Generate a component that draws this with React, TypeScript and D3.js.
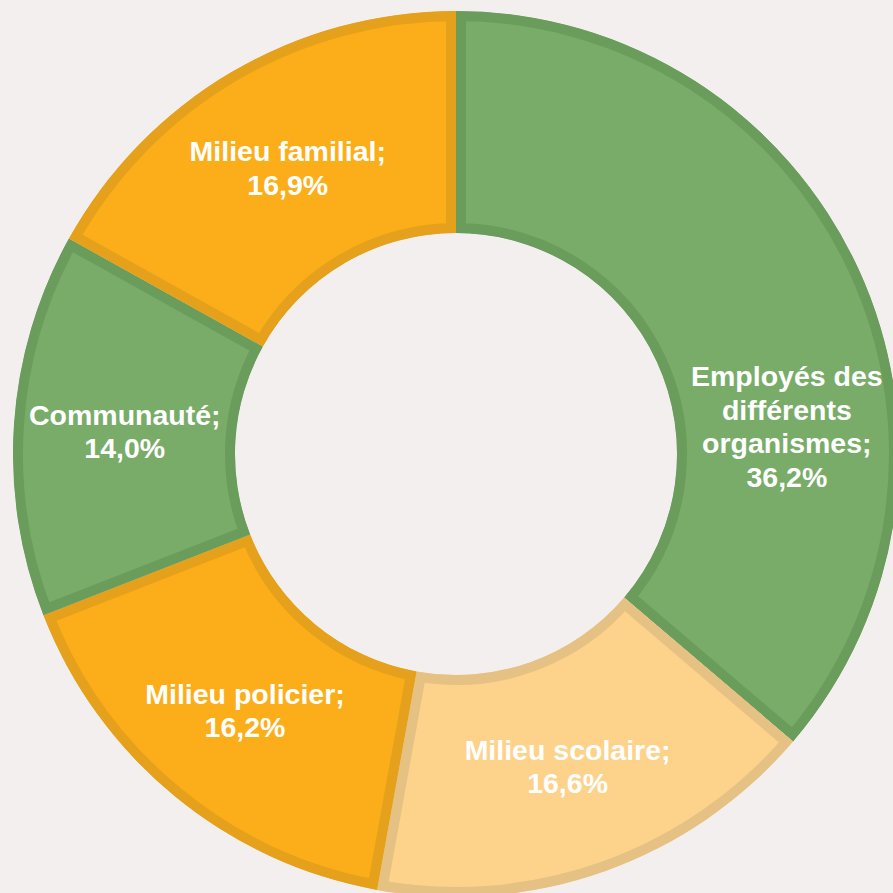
import React from "react";
import * as d3 from "d3";

const categories = ["Employés des différents organismes", "Milieu scolaire", "Milieu policier", "Communauté", "Milieu familial"];
const values = [36.2, 16.6, 16.2, 14.0, 16.9];
const labelLines = [
  ["Employés des", "différents", "organismes;", "36,2%"],
  ["Milieu scolaire;", "16,6%"],
  ["Milieu policier;", "16,2%"],
  ["Communauté;", "14,0%"],
  ["Milieu familial;", "16,9%"],
];
const fills = ["#78AC68", "#FDD28B", "#FBAE19", "#78AC68", "#FBAE19"];
const strokes = ["#6A9D5B", "#E5C184", "#E5A11B", "#6A9D5B", "#E5A11B"];
// extra angular shift (degrees) for labels that Excel moved to fit
const labelShift = [20, 0, 0, 0, 0];

const W = 893;
const H = 893;
const cx = 456;
const cy = 454;
const R = 443;
const r = 221;

export default function App() {
  const pie = d3.pie<number>().sort(null).value((d) => d)(values);
  const arc = d3.arc<d3.PieArcDatum<number>>().innerRadius(r).outerRadius(R);
  const mid = (r + R) / 2;
  return (
    <svg
      width={W}
      height={H}
      style={{ position: "absolute", left: 0, top: 0, background: "#F3EFEE" }}
    >
      <defs>
        {pie.map((p, i) => (
          <clipPath id={`clip${i}`} key={i}>
            <path d={arc(p) || ""} />
          </clipPath>
        ))}
      </defs>
      <g transform={`translate(${cx},${cy})`}>
        {pie.map((p, i) => (
          <path
            key={categories[i]}
            d={arc(p) || ""}
            fill={fills[i]}
            stroke={strokes[i]}
            strokeWidth={20}
            clipPath={`url(#clip${i})`}
          />
        ))}
        {pie.map((p, i) => {
          const a = (p.startAngle + p.endAngle) / 2 + (labelShift[i] * Math.PI) / 180;
          const x = mid * Math.sin(a);
          const y = -mid * Math.cos(a);
          const lines = labelLines[i];
          const lh = 33.5;
          const y0 = y - ((lines.length - 1) * lh) / 2;
          return (
            <text
              key={i}
              textAnchor="middle"
              fontFamily="'Liberation Sans', Arial, sans-serif"
              fontWeight="bold"
              fontSize={28.5}
              fill="#FFFFFF"
            >
              {lines.map((t, j) => (
                <tspan key={j} x={x} y={y0 + j * lh} dy="0.35em">
                  {t}
                </tspan>
              ))}
            </text>
          );
        })}
      </g>
    </svg>
  );
}
